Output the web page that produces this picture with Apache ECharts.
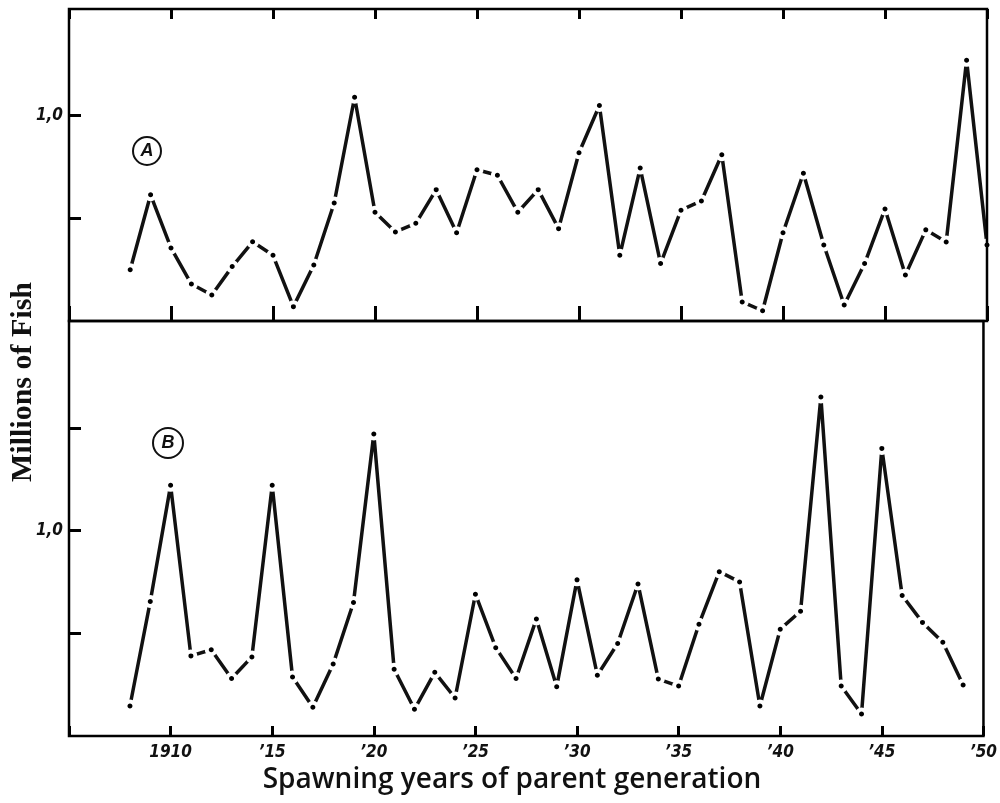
<!DOCTYPE html>
<html>
<head>
<meta charset="utf-8">
<script src="https://cdn.jsdelivr.net/npm/echarts@6/dist/echarts.min.js"></script>
<style>
  html, body { margin: 0; padding: 0; background: #fff; }
  #chart { width: 1000px; height: 803px; }
</style>
</head>
<body>
<div id="chart"></div>
<script>
// Spawning years of the parent generation
const yearsA = [1908, 1909, 1910, 1911, 1912, 1913, 1914, 1915, 1916, 1917, 1918, 1919, 1920,
  1921, 1922, 1923, 1924, 1925, 1926, 1927, 1928, 1929, 1930, 1931, 1932, 1933, 1934, 1935,
  1936, 1937, 1938, 1939, 1940, 1941, 1942, 1943, 1944, 1945, 1946, 1947, 1948, 1949, 1950];
const yearsB = [1908, 1909, 1910, 1911, 1912, 1913, 1914, 1915, 1916, 1917, 1918, 1919, 1920,
  1921, 1922, 1923, 1924, 1925, 1926, 1927, 1928, 1929, 1930, 1931, 1932, 1933, 1934, 1935,
  1936, 1937, 1938, 1939, 1940, 1941, 1942, 1943, 1944, 1945, 1946, 1947, 1948, 1949];

// Millions of fish, series A
const valuesA = [0.25, 0.615, 0.356, 0.18, 0.127, 0.265, 0.386, 0.32, 0.07, 0.273, 0.575, 1.09, 0.53,
  0.434, 0.476, 0.64, 0.43, 0.737, 0.71, 0.53, 0.64, 0.45, 0.82, 1.05, 0.32, 0.745, 0.28, 0.54,
  0.585, 0.81, 0.093, 0.05, 0.43, 0.72, 0.37, 0.078, 0.28, 0.546, 0.224, 0.444, 0.385, 1.27, 0.37];

// Millions of fish, series B
const valuesB = [0.146, 0.655, 1.22, 0.39, 0.42, 0.28, 0.385, 1.22, 0.287, 0.14, 0.35, 0.65, 1.47,
  0.325, 0.13, 0.31, 0.185, 0.69, 0.43, 0.28, 0.57, 0.24, 0.76, 0.296, 0.45, 0.74, 0.277, 0.243,
  0.544, 0.80, 0.75, 0.146, 0.52, 0.607, 1.65, 0.243, 0.107, 1.40, 0.684, 0.553, 0.456, 0.248];

// Year tick labels
const yearTicks = [1910, 1915, 1920, 1925, 1930, 1935, 1940, 1945, 1950];
const yearTickLabels = ['1910', '\u201915', '\u201920', '\u201925', '\u201930', '\u201935', '\u201940', '\u201945', '\u201950'];

const tickFont = '"Liberation Sans Narrow", "DejaVu Sans Condensed", sans-serif';

const chart = echarts.init(document.getElementById('chart'), null, { renderer: 'canvas' });

function xAxisFor(gridIndex, position, tickLen, showLabels) {
  return {
    type: 'value', gridIndex, position, min: 1905, max: 1950, interval: 5,
    axisLine: { show: false, onZero: false },
    axisTick: { show: true, inside: true, length: tickLen, lineStyle: { color: '#000', width: 3 } },
    axisLabel: {
      show: showLabels, margin: 8, color: '#111', fontSize: 17, fontStyle: 'italic',
      fontWeight: 'bold', fontFamily: tickFont,
      formatter: v => { const i = yearTicks.indexOf(v); return i >= 0 ? yearTickLabels[i] : ''; }
    },
    splitLine: { show: false }
  };
}

function yAxisFor(gridIndex, max, tickValues) {
  return {
    type: 'value', gridIndex, min: 0, max,
    axisLine: { show: false, onZero: false },
    axisTick: { show: true, inside: true, length: 12, customValues: tickValues,
      lineStyle: { color: '#000', width: 3 } },
    axisLabel: {
      show: true, customValues: [1], margin: 6, color: '#111', fontSize: 17,
      fontStyle: 'italic', fontWeight: 'bold', fontFamily: tickFont, formatter: () => '1,0'
    },
    splitLine: { show: false }
  };
}

const lineSeries = (xAxisIndex, yAxisIndex, years, values) => ({
  type: 'line', xAxisIndex, yAxisIndex,
  data: years.map((y, i) => [y, values[i]]),
  symbol: 'circle', symbolSize: 9,
  itemStyle: { color: '#000', borderColor: '#fff', borderWidth: 4 },
  lineStyle: { color: '#111', width: 3.5 },
  emphasis: { disabled: true },
  clip: false
});

const circledLabel = (cx, cy, r, letter) => ({
  type: 'group',
  children: [
    { type: 'circle', shape: { cx, cy, r }, style: { fill: 'none', stroke: '#111', lineWidth: 2 } },
    { type: 'text', x: cx, y: cy, style: { text: letter, fill: '#111', align: 'center',
      verticalAlign: 'middle', font: 'italic bold 18px "Liberation Sans", sans-serif' } }
  ]
});

// Frames sit above the data line so edge points do not cut them
const frame = { show: true, borderColor: '#000', borderWidth: 2.5, backgroundColor: 'transparent', z: 4 };

chart.setOption({
  animation: false,
  backgroundColor: '#fff',
  grid: [
    Object.assign({ left: 69, right: 13, top: 9, height: 312 }, frame),
    Object.assign({ left: 69, right: 11, top: 321, height: 415 }, frame)
  ],
  xAxis: [
    xAxisFor(0, 'bottom', 15, false),
    xAxisFor(0, 'top', 10, false),
    xAxisFor(1, 'bottom', 10, true)
  ],
  yAxis: [
    yAxisFor(0, 1.52, [0.5, 1]),
    yAxisFor(1, 2.02, [0.5, 1, 1.5])
  ],
  series: [
    lineSeries(0, 0, yearsA, valuesA),
    lineSeries(2, 1, yearsB, valuesB)
  ],
  graphic: [
    circledLabel(147, 151, 14, 'A'),
    circledLabel(168, 443, 15, 'B'),
    { type: 'text', x: 23, y: 382, rotation: Math.PI / 2,
      style: { text: 'Millions of Fish', fill: '#111', align: 'center', verticalAlign: 'middle',
        font: 'bold 30px "Liberation Serif", serif' } },
    { type: 'text', x: 512, y: 780,
      style: { text: 'Spawning years of parent generation', fill: '#111', align: 'center',
        verticalAlign: 'middle', font: '600 28px "Open Sans", sans-serif' } }
  ]
});
</script>
</body>
</html>
